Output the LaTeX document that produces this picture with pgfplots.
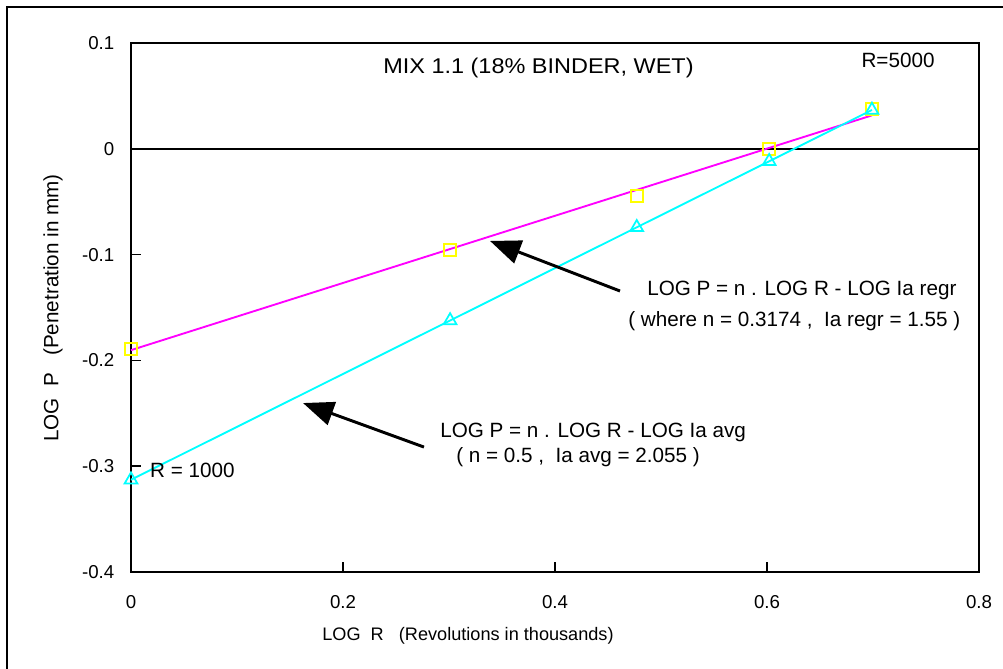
\documentclass[border=0pt]{standalone}
\usepackage{pgfplots}
\pgfplotsset{compat=1.18}
\usepackage{fontspec}
\setmainfont{Liberation Sans}
\usetikzlibrary{arrows.meta}
\definecolor{cyanx}{RGB}{0,255,255}
\definecolor{magx}{RGB}{255,0,255}
\definecolor{yelx}{RGB}{255,255,0}
\begin{document}
\begin{tikzpicture}[x=0.75pt,y=0.75pt]
\useasboundingbox (0,0) rectangle (1003,-668);
\draw[line width=1.4pt] (7,-680) -- (7,-7) -- (1010,-7);
\begin{axis}[
  at={(98.25pt,-429pt)}, anchor=south west,
  scale only axis, width=636pt, height=396.75pt,
  xmin=0, xmax=0.8, ymin=-0.4, ymax=0.1,
  xtick={0,0.2,0.4,0.6,0.8}, xticklabels={0,0.2,0.4,0.6,0.8},
  ytick={-0.4,-0.3,-0.2,-0.1,0,0.1}, yticklabels={-0.4,-0.3,-0.2,-0.1,0,0.1},
  tick align=inside, major tick length=7.5pt,
  xtick pos=bottom, ytick pos=left,
  axis line style={line width=1.4pt}, every tick/.style={black, line width=1.2pt},
  tick label style={font=\fontsize{14}{16}\selectfont},
  xticklabel style={yshift=-14pt},
  yticklabel style={xshift=-9pt},
  clip=false,
]
\addplot[black, line width=1.2pt, no marks] coordinates {(0,0) (0.8,0)};
\addplot[magx, line width=1.4pt, no marks] coordinates {(0,-0.1903) (0.69897,0.0316)};
\addplot[only marks, mark=square, mark size=4.5pt, mark options={yelx, line width=1.3pt}] coordinates {
(0,-0.189) (0.30103,-0.0957) (0.47712,-0.0446) (0.60206,0.0) (0.69897,0.0376)};
\addplot[cyanx, line width=1.4pt, mark=triangle, mark size=5.5pt, mark options={cyanx, line width=1.3pt}] coordinates {
(0,-0.3128) (0.30103,-0.1623) (0.47712,-0.0742) (0.60206,-0.0118) (0.69897,0.0367)};
\draw[black, line width=2.2pt, -{Triangle[length=23pt,width=18pt]}] (axis cs:0.4613,-0.1344) -- (axis cs:0.3387,-0.0871);
\draw[black, line width=2.2pt, -{Triangle[length=23pt,width=18pt]}] (axis cs:0.2764,-0.2819) -- (axis cs:0.1623,-0.2403);
\node[anchor=center, xscale=1.1, font=\fontsize{16}{18}\selectfont] at (axis cs:0.3844,0.0764) {MIX 1.1 (18\% BINDER, WET)};
\node[anchor=center, font=\fontsize{15.5}{17}\selectfont] at (axis cs:0.7236,0.084) {R=5000};
\node[anchor=west, inner sep=0pt, font=\fontsize{15.5}{17}\selectfont] at (axis cs:0.0179,-0.3036) {R = 1000};
\node[anchor=west, inner sep=0pt, font=\fontsize{15.5}{17}\selectfont] at (axis cs:0.4868,-0.1334) {LOG P = n . LOG R - LOG Ia regr};
\node[anchor=west, inner sep=0pt, font=\fontsize{15.5}{17}\selectfont] at (axis cs:0.4689,-0.1628) {( where n = 0.3174 ,\ \ Ia regr = 1.55 )};
\node[anchor=west, inner sep=0pt, font=\fontsize{15.5}{17}\selectfont] at (axis cs:0.2915,-0.2677) {LOG P = n . LOG R - LOG Ia avg};
\node[anchor=west, inner sep=0pt, font=\fontsize{15.5}{17}\selectfont] at (axis cs:0.3066,-0.2913) {( n = 0.5 ,\ \ Ia avg = 2.055 )};
\end{axis}
\node[rotate=90, font=\fontsize{15.5}{17}\selectfont] at (53,-308) {LOG\ \ P\ \ \ (Penetration in mm)};
\node[font=\fontsize{13.6}{15}\selectfont] at (468,-636) {LOG\ \ R\ \ \ (Revolutions in thousands)};
\end{tikzpicture}
\end{document}
